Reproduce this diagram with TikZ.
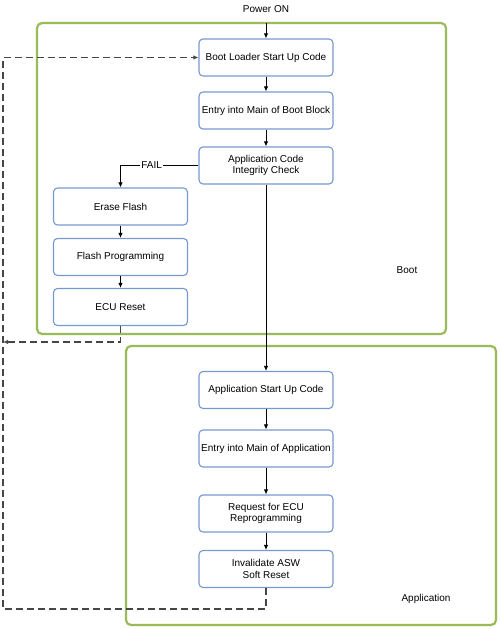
\documentclass[tikz,border=0pt]{standalone}
\usepackage{fontspec}
\setmainfont{Liberation Sans}
\usetikzlibrary{arrows.meta}
\definecolor{frameGreen}{RGB}{155,187,89}
\definecolor{boxBlue}{RGB}{118,152,208}
\definecolor{loopGray}{RGB}{70,70,70}
\begin{document}
\begin{tikzpicture}[x=1pt,y=-1pt,
  font=\fontsize{10}{11.5}\selectfont,
  stepbox/.style={rectangle,draw=boxBlue,line width=1.1pt,rounded corners=4pt,
    minimum width=134pt,minimum height=37pt,align=center,inner sep=1pt},
  region/.style={draw=frameGreen,line width=2.2pt,rounded corners=5pt},
  flow/.style={-{Latex[length=5pt,width=4.5pt]},line width=0.9pt},
  back/.style={-{Latex[length=5pt,width=4.5pt]},loopGray,line width=1.2pt,dash pattern=on 7pt off 4pt}]
\useasboundingbox (0,0) rectangle (500,629);
\draw[region] (37,23) rectangle (446,334);
\draw[region] (126,346) rectangle (496,625);
\node (power) at (266,9) {Power ON};
\coordinate (pin) at (266,23);
\node [stepbox] (boot) at (266,57.5) {Boot Loader Start Up Code};
\node [stepbox] (mainboot) at (266,110.5) {Entry into Main of Boot Block};
\node [stepbox] (check) at (266,165.5) {Application Code\\Integrity Check};
\node [stepbox] (erase) at (120.5,206.5) {Erase Flash};
\node [stepbox] (prog) at (120.5,257) {Flash Programming};
\node [stepbox] (reset) at (120.5,307) {ECU Reset};
\node (bootlbl) at (407,270) {Boot};
\node [stepbox] (appstart) at (266,390) {Application Start Up Code};
\node [stepbox] (mainapp) at (266,448.5) {Entry into Main of Application};
\node [stepbox] (request) at (266,513.5) {Request for ECU\\Reprogramming};
\node [stepbox] (invalid) at (266,569) {Invalidate ASW\\Soft Reset};
\node (applbl) at (426,599) {Application};
\coordinate (resetend) at (3,342);
\coordinate (lowright) at (266,609);
\coordinate (lowleft) at (3,609);
\coordinate (upleft) at (3,57.5);
\draw[flow] (pin) -- (boot);
\draw[flow] (boot) -- (mainboot);
\draw[flow] (mainboot) -- (check);
\draw[flow] (check.west) -| node[pos=0.3,fill=white,inner sep=1pt] {FAIL} (erase.north);
\draw[flow] (erase) -- (prog);
\draw[flow] (prog) -- (reset);
\draw[flow] (check) -- (appstart);
\draw[flow] (appstart) -- (mainapp);
\draw[flow] (mainapp) -- (request);
\draw[flow] (request) -- (invalid);
\draw[back] (reset.south) |- (resetend);
\draw[back] (invalid.south) -- (lowright) -- (lowleft) -- (upleft) -- (boot.west);
\end{tikzpicture}
\end{document}
